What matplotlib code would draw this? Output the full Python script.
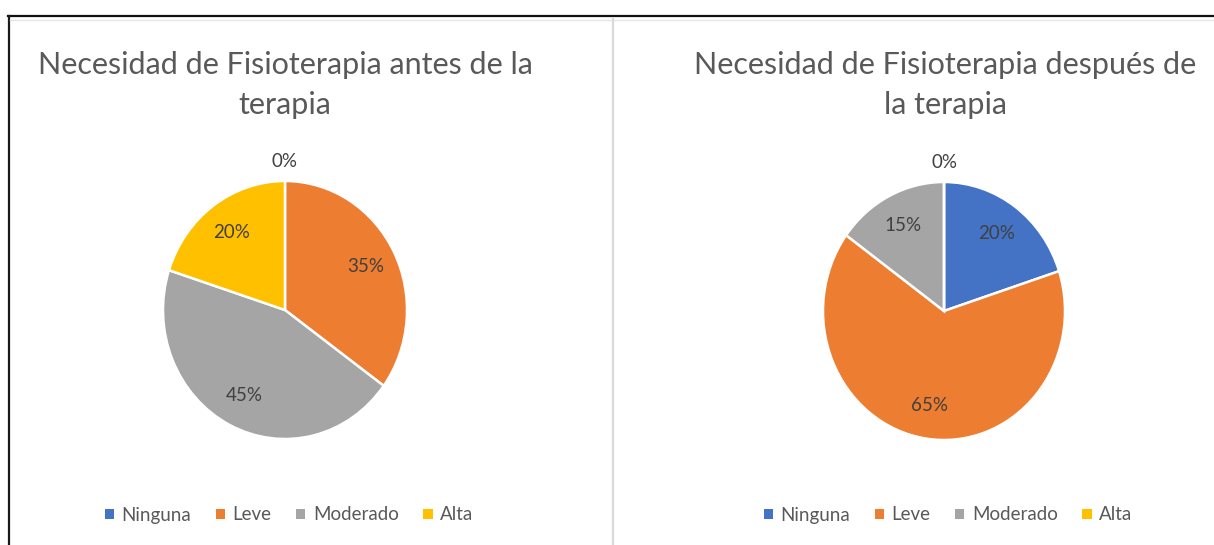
import matplotlib
matplotlib.use("Agg")
import matplotlib.pyplot as plt
from matplotlib.lines import Line2D
from matplotlib.patches import Patch

categories = ["Ninguna", "Leve", "Moderado", "Alta"]
antes = [0, 35, 45, 20]
despues = [20, 65, 15, 0]
titles = ["Necesidad de Fisioterapia antes de la\nterapia",
          "Necesidad de Fisioterapia después de\nla terapia"]
colors = ["#4472C4", "#ED7D31", "#A5A5A5", "#FFC000"]

W, H = 1214, 545
FONT = "Lato"
plt.rcParams["font.family"] = [FONT, "DejaVu Sans"]

fig = plt.figure(figsize=(W / 100, H / 100), dpi=100)
fig.patch.set_facecolor("white")


def px(x0, y0, x1, y1):
    return [x0 / W, 1 - y1 / H, (x1 - x0) / W, (y1 - y0) / H]


def draw(rect, values, title, tx, ty, lx):
    ax = fig.add_axes(rect)
    wedges, _, autotexts = ax.pie(
        values, colors=colors, startangle=90, counterclock=False,
        autopct=lambda p: f"{p:.0f}%", pctdistance=0.74,
        wedgeprops=dict(edgecolor="white", linewidth=1.8),
        textprops=dict(color="#404040", fontsize=13.5))
    for v, t in zip(values, autotexts):
        if v == 0:
            t.set_position((0, 1.15))
            t.set_clip_on(False)
    ax.set_aspect("auto")
    ax.set_xlim(-1, 1)
    ax.set_ylim(-1, 1)
    ax.axis("off")
    fig.text(tx / W, 1 - ty / H, title, ha="center", va="center",
             fontsize=22, color="#595959", linespacing=1.55)
    handles = [Patch(facecolor=c, edgecolor="none") for c in colors]
    fig.legend(handles, categories, loc="center", ncol=4,
               bbox_to_anchor=(lx / W, 1 - 515 / H), frameon=False,
               fontsize=13.5, labelcolor="#595959", handlelength=0.5,
               handleheight=0.5, handletextpad=0.4, columnspacing=1.3)


draw(px(163, 181, 407, 439), antes, titles[0], 285, 85, 289)
draw(px(823, 182, 1065, 440), despues, titles[1], 945, 85, 948)

# frame lines
fig.add_artist(Line2D([8 / W, 1], [1 - 16 / H, 1 - 16 / H], color="#111111", lw=1.6))
fig.add_artist(Line2D([9 / W] * 2, [1 - 16 / H, 0], color="#1a1a1a", lw=1.6))
fig.add_artist(Line2D([10 / W, 1], [1 - 19.5 / H] * 2, color="#e6e6e6", lw=1))
fig.add_artist(Line2D([613 / W] * 2, [1 - 19 / H, 0], color="#d9d9d9", lw=1.6))

fig.savefig("out.png", dpi=100, facecolor="white")
